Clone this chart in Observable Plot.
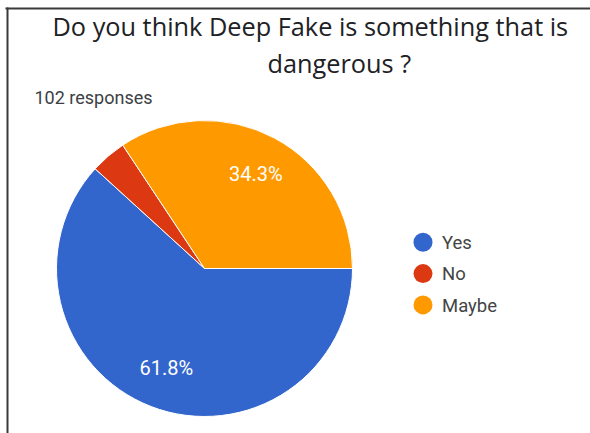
<!DOCTYPE html>
<html><head><meta charset="utf-8">
<script src="https://cdn.jsdelivr.net/npm/d3@7"></script>
<script src="https://cdn.jsdelivr.net/npm/@observablehq/plot@0.6"></script>
<style>body{margin:0;background:#fff} #chart svg{display:block}</style>
</head><body><div id="chart"></div>
<script>
// Data
const categories = ["Yes", "No", "Maybe"];
const counts = [63, 4, 35];
const colors = ["#3366cc", "#dc3912", "#ff9900"];
const titleLines = ["Do you think Deep Fake is something that is", "dangerous ?"];
const subtitle = "102 responses";

// Layout
const W = 590, H = 433, cx = 204.5, cy = 268.5, R = 148;
const total = d3.sum(counts);
const arcs = d3.pie().sort(null).startAngle(Math.PI / 2).endAngle(Math.PI / 2 + 2 * Math.PI)(counts);
const slices = arcs.map((a, i) => ({
  category: categories[i], count: counts[i], pct: counts[i] / total,
  start: a.startAngle, end: a.endAngle, mid: (a.startAngle + a.endAngle) / 2
}));
const labelR = 0.725;

function pieMark(index, scales) {
  const x = scales.x, y = scales.y, color = scales.color;
  const ox = x(0), oy = y(0), r = x(1) - x(0);
  const arc = d3.arc().innerRadius(0).outerRadius(r);
  const g = d3.create("svg:g").attr("transform", `translate(${ox},${oy})`);
  g.selectAll("path").data(slices).join("path")
    .attr("d", d => arc({startAngle: d.start, endAngle: d.end}))
    .attr("fill", d => color ? color(d.category) : colors[categories.indexOf(d.category)])
    .attr("stroke", "#fff").attr("stroke-width", 1).attr("stroke-linejoin", "round");
  return g.node();
}

const font = "Roboto, 'Noto Sans', sans-serif";
const titleFont = "'Open Sans', Roboto, sans-serif";
const legendMarks = categories.flatMap((c, i) => [
  Plot.dot([c], {frameAnchor: "top-left", dx: 422.5, dy: 241.8 + i * 31.3, r: 9.5, fill: d => d, stroke: null}),
  Plot.text([c], {frameAnchor: "top-left", dx: 441.5, dy: 248.5 + i * 31.3, text: d => d, textAnchor: "start", lineAnchor: "bottom", fontSize: 18.5, fill: "#444"})
]);

const plot = Plot.plot({
  width: W, height: H,
  margin: 0,
  style: {fontFamily: font, background: "#fff", overflow: "visible"},
  x: {domain: [-cx / R, (W - cx) / R], range: [0, W], axis: null},
  y: {domain: [-(H - cy) / R, cy / R], range: [H, 0], axis: null},
  color: {domain: categories, range: colors},
  marks: [
    Plot.frame({anchor: "left", insetLeft: 7, insetTop: 8, stroke: "#3a3a3a", strokeWidth: 2}),
    Plot.frame({anchor: "top", insetLeft: 6, insetTop: 8, stroke: "#3a3a3a", strokeWidth: 2}),
    pieMark,
    Plot.text(slices.filter(d => d.pct >= 0.05), {
      x: d => labelR * Math.sin(d.mid), y: d => labelR * Math.cos(d.mid),
      text: d => (d.pct * 100).toFixed(1) + "%", fill: "#fff", fontSize: 20
    }),
    Plot.text([titleLines[0]], {frameAnchor: "top-left", dx: 52, dy: 35, text: d => d, textAnchor: "start", lineAnchor: "bottom", fontSize: 25.3, fontFamily: titleFont, fill: "#202124"}),
    Plot.text([titleLines[1]], {frameAnchor: "top-left", dx: 267, dy: 72, text: d => d, textAnchor: "start", lineAnchor: "bottom", fontSize: 25.3, fontFamily: titleFont, fill: "#202124"}),
    Plot.text([subtitle], {frameAnchor: "top-left", dx: 34, dy: 103, text: d => d, textAnchor: "start", lineAnchor: "bottom", fontSize: 18, fill: "#3c4043"}),
    ...legendMarks
  ]
});
document.getElementById("chart").appendChild(plot);
</script>
</body></html>
